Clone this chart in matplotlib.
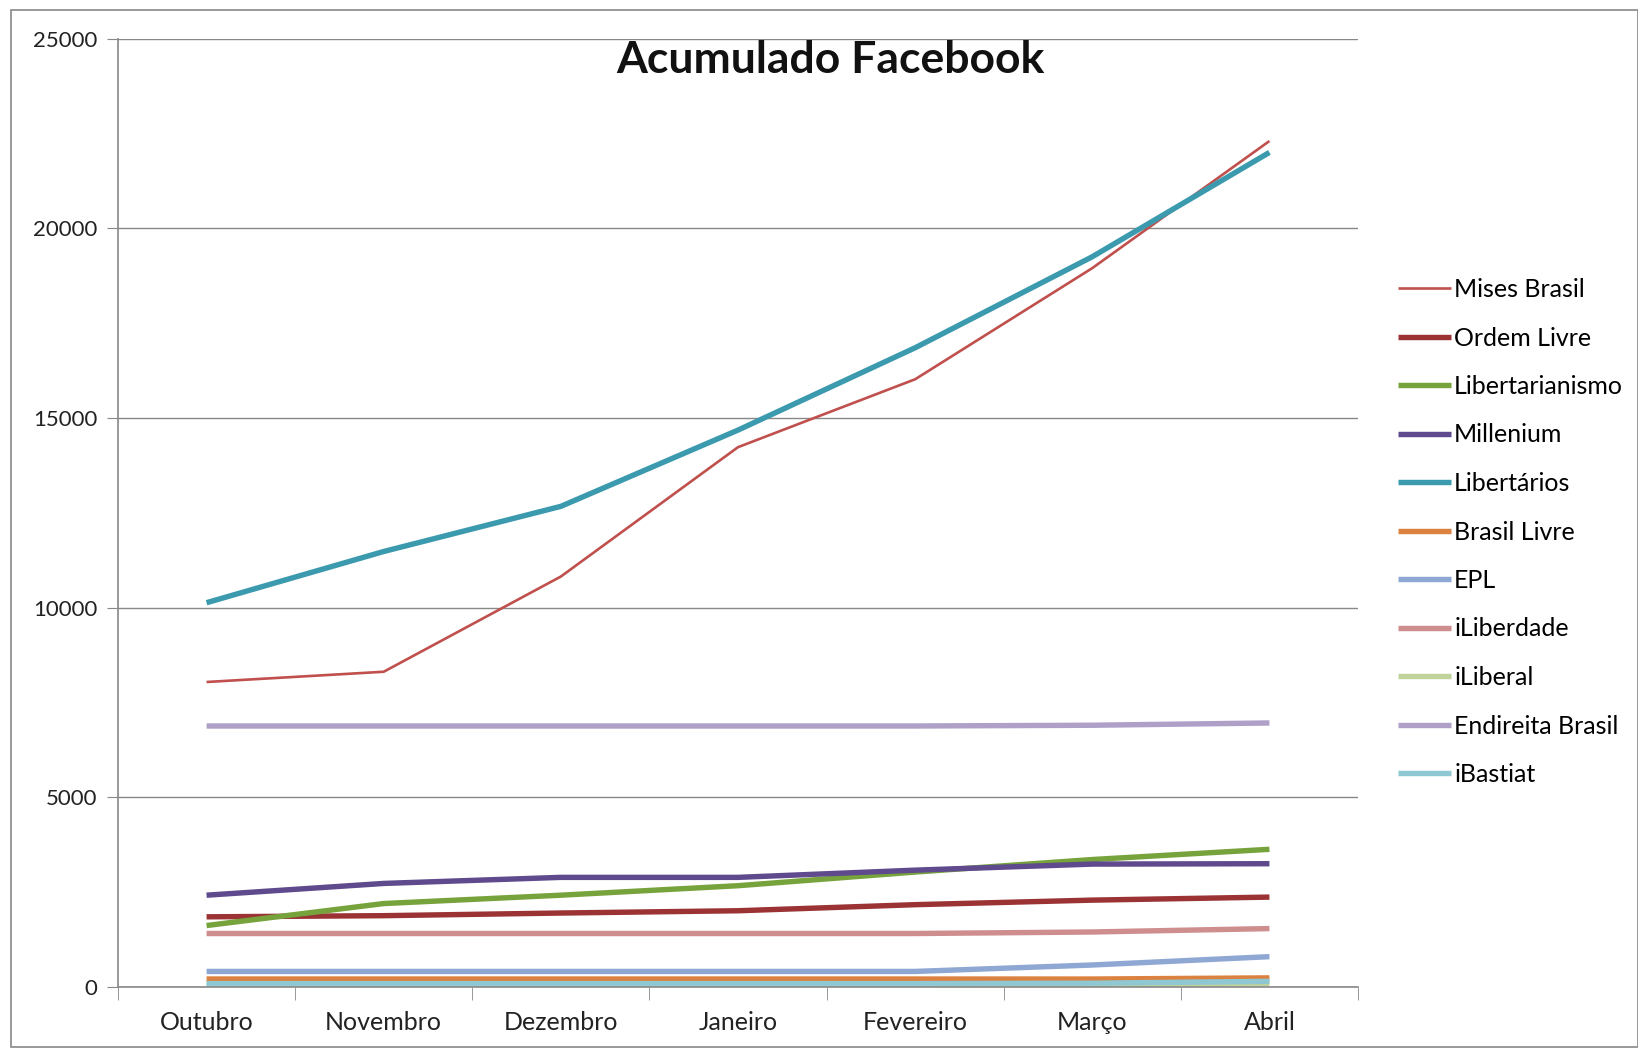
import matplotlib.pyplot as plt
from matplotlib.patches import Rectangle

# === 数据 ===
meses = ['Outubro', 'Novembro', 'Dezembro', 'Janeiro', 'Fevereiro', 'Março', 'Abril']

mises_brasil = [8040, 8310, 10820, 14230, 16020, 18950, 22300]
ordem_livre = [1850, 1880, 1950, 2010, 2170, 2290, 2370]
libertarianismo = [1620, 2200, 2420, 2670, 3030, 3360, 3630]
millenium = [2420, 2730, 2890, 2890, 3080, 3240, 3250]
libertarios = [10130, 11480, 12670, 14680, 16850, 19250, 22000]
brasil_livre = [210, 210, 210, 210, 210, 210, 240]
epl = [410, 410, 410, 410, 410, 580, 800]
iliberdade = [1410, 1410, 1410, 1410, 1410, 1450, 1540]
iliberal = [60, 60, 60, 60, 60, 60, 90]
endireita_brasil = [6880, 6880, 6880, 6880, 6880, 6900, 6960]
ibastiat = [90, 90, 90, 90, 90, 100, 150]

series = [
    ('Mises Brasil', mises_brasil, '#C0504D', 1.9),
    ('Ordem Livre', ordem_livre, '#9B3335', 3.9),
    ('Libertarianismo', libertarianismo, '#77A33C', 3.9),
    ('Millenium', millenium, '#5E4A8C', 3.9),
    ('Libertários', libertarios, '#3B9AAE', 3.9),
    ('Brasil Livre', brasil_livre, '#DC8240', 3.9),
    ('EPL', epl, '#8FA8D3', 3.9),
    ('iLiberdade', iliberdade, '#CF8E8E', 3.9),
    ('iLiberal', iliberal, '#BFD39A', 3.9),
    ('Endireita Brasil', endireita_brasil, '#AFA0C8', 3.9),
    ('iBastiat', ibastiat, '#8FC7D3', 3.9),
]

plt.rcParams['font.family'] = ['Lato', 'DejaVu Sans']

W, H = 1638, 1051
fig = plt.figure(figsize=(W / 100, H / 100), dpi=100)
ax = fig.add_axes([118 / W, 1 - 987 / H, (1358 - 118) / W, (987 - 38.6) / H])

x = list(range(len(meses)))
for nome, vals, cor, lw in series:
    ax.plot(x, vals, color=cor, lw=lw, label=nome, solid_capstyle='butt')

# 坐标轴
ax.set_xlim(-0.5, len(meses) - 0.5)
ax.set_ylim(0, 25000)
ax.set_yticks(range(0, 25001, 5000))
ax.set_xticks(x)
ax.set_xticklabels(meses)
ax.set_xticks([i - 0.5 for i in range(len(meses) + 1)], minor=True)
ax.tick_params(axis='x', which='major', length=0, pad=17, labelsize=18, colors='#222222')
ax.tick_params(axis='x', which='minor', length=9, color='#888888')
ax.tick_params(axis='y', length=8, color='#888888', labelsize=16, colors='#222222', pad=7)
ax.grid(axis='y', color='#888888', lw=1)
ax.set_axisbelow(True)
for s in ['top', 'right']:
    ax.spines[s].set_visible(False)
for s in ['left', 'bottom']:
    ax.spines[s].set_color('#888888')
    ax.spines[s].set_linewidth(1.2)

fig.text(830 / W, 1 - 60 / H, 'Acumulado Facebook', ha='center', va='center',
         fontsize=32, fontweight='bold', color='#111111')

fig.legend(loc='center left', bbox_to_anchor=(1398 / W, 1 - 532 / H), frameon=False,
           fontsize=18, handlelength=2.1, handletextpad=0.15, labelspacing=1.02,
           borderpad=0, borderaxespad=0)

# 外框
fig.patches.append(Rectangle((11 / W, 1 - 1047 / H), 1 - 11 / W, (1047 - 10) / H,
                             transform=fig.transFigure, fill=False,
                             edgecolor='#888888', lw=1.2))

fig.savefig('out.png', dpi=100)
